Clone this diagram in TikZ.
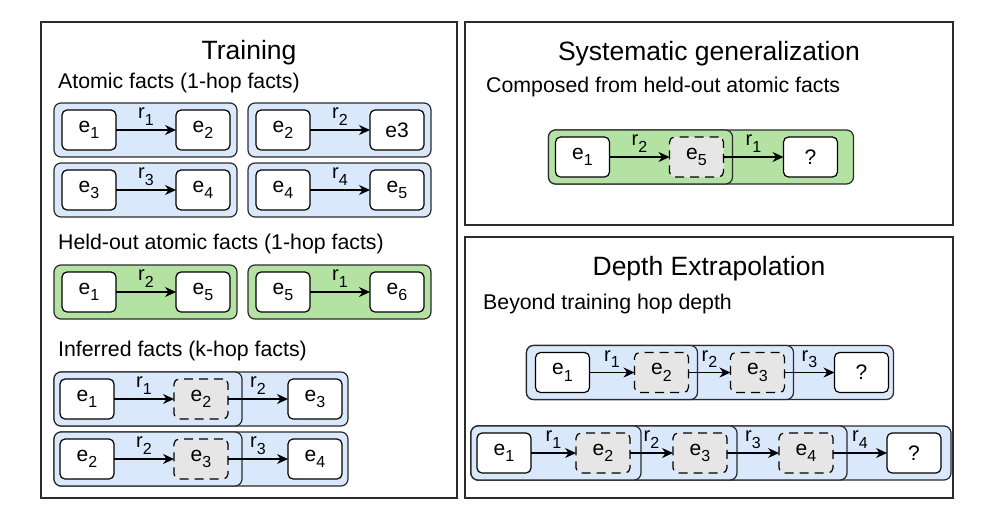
\documentclass[tikz,border=0pt]{standalone}
\usepackage{fontspec}
\setmainfont{Liberation Sans}
\usepackage{tikz}
\usetikzlibrary{arrows.meta,positioning,calc,backgrounds}

\definecolor{factblue}{HTML}{DAE8FC}
\definecolor{factgreen}{HTML}{B3E2A3}
\definecolor{hiddengray}{HTML}{E6E6E6}
\definecolor{edgedark}{HTML}{2B2B2B}

% lowered index as in e_1, r_2
\newcommand\lowidx[1]{\raisebox{-6.5pt}{\fontsize{16}{16}\selectfont #1}}

\begin{document}
\begin{tikzpicture}[
    x=1pt, y=-1pt,
    node distance=60pt,
    entity/.style={draw, fill=white, rounded corners=5pt, line width=1.2pt, minimum width=54pt, minimum height=40pt, inner sep=0pt, outer sep=0pt, font=\fontsize{21}{24}\selectfont},
    hidden/.style={entity, fill=hiddengray, dash pattern=on 9pt off 6pt},
    relation/.style={-{Stealth[length=11pt,width=10pt]}, line width=1.1pt},
    rel/.style={midway, above=4pt, inner sep=0pt, font=\fontsize{20}{22}\selectfont},
    bluegrp/.style={draw=edgedark, fill=factblue, rounded corners=7pt, line width=1.2pt},
    greengrp/.style={draw=edgedark, fill=factgreen, rounded corners=7pt, line width=1.2pt},
    panel/.style={draw=edgedark, line width=1.1pt},
    heading/.style={anchor=base, inner sep=0pt, font=\fontsize{26.5}{30}\selectfont},
    subheading/.style={anchor=base west, inner sep=0pt, font=\fontsize{21.3}{25}\selectfont}
  ]
    \useasboundingbox (0,0) rectangle (996,523);

    % panels
    \draw[panel] (41,22) rectangle (457,498);
    \draw[panel] (465,22) rectangle (953,225);
    \draw[panel] (465,237) rectangle (953,498);

    \node[heading] (trainTitle) at (249,59) {Training};
    \node[subheading] (atomicText) at (58,88) {Atomic facts (1-hop facts)};
    \node[subheading] (heldText) at (58,249) {Held-out atomic facts (1-hop facts)};
    \node[subheading] (inferText) at (58,356) {Inferred facts (k-hop facts)};
    \node[heading] (sysTitle) at (709,60) {Systematic generalization};
    \node[subheading] (sysText) at (486,92) {Composed from held-out atomic facts};
    \node[heading] (depthTitle) at (709,275) {Depth Extrapolation};
    \node[subheading] (depthText) at (483,309) {Beyond training hop depth};

    % atomic facts
    \node[entity] (a1) at (89,130) {e\lowidx{1}};
    \node[entity, right=of a1] (a2) {e\lowidx{2}};
    \node[entity] (b1) at (283,130) {e\lowidx{2}};
    \node[entity, right=of b1] (b2) {e3};
    \node[entity] (c1) at (89,190) {e\lowidx{3}};
    \node[entity, right=of c1] (c2) {e\lowidx{4}};
    \node[entity] (d1) at (283,190) {e\lowidx{4}};
    \node[entity, right=of d1] (d2) {e\lowidx{5}};
    \draw[relation] (a1) -- node[rel] {r\lowidx{1}} (a2);
    \draw[relation] (b1) -- node[rel] {r\lowidx{2}} (b2);
    \draw[relation] (c1) -- node[rel] {r\lowidx{3}} (c2);
    \draw[relation] (d1) -- node[rel] {r\lowidx{4}} (d2);

    % held-out atomic facts
    \node[entity] (h1) at (89,292) {e\lowidx{1}};
    \node[entity, right=of h1] (h2) {e\lowidx{5}};
    \node[entity] (g1) at (283,292) {e\lowidx{5}};
    \node[entity, right=of g1] (g2) {e\lowidx{6}};
    \draw[relation] (h1) -- node[rel] {r\lowidx{2}} (h2);
    \draw[relation] (g1) -- node[rel] {r\lowidx{1}} (g2);

    % inferred facts
    \node[entity] (i1) at (87,399) {e\lowidx{1}};
    \node[hidden, right=of i1] (i2) {e\lowidx{2}};
    \node[entity, right=of i2] (i3) {e\lowidx{3}};
    \node[entity] (j1) at (87,459) {e\lowidx{2}};
    \node[hidden, right=of j1] (j2) {e\lowidx{3}};
    \node[entity, right=of j2] (j3) {e\lowidx{4}};
    \draw[relation] (i1) -- node[rel] {r\lowidx{1}} (i2);
    \draw[relation] (i2) -- node[rel] {r\lowidx{2}} (i3);
    \draw[relation] (j1) -- node[rel] {r\lowidx{2}} (j2);
    \draw[relation] (j2) -- node[rel] {r\lowidx{3}} (j3);

    % systematic generalization
    \node[entity] (s1) at (582.5,157) {e\lowidx{1}};
    \node[hidden, right=of s1] (s2) {e\lowidx{5}};
    \node[entity, right=of s2] (s3) {?};
    \draw[relation] (s1) -- node[rel] {r\lowidx{2}} (s2);
    \draw[relation] (s2) -- node[rel] {r\lowidx{1}} (s3);

    % depth extrapolation
    \node[entity] (p1) at (562.5,372.5) {e\lowidx{1}};
    \node[hidden, right=45pt of p1] (p2) {e\lowidx{2}};
    \node[hidden, right=42pt of p2] (p3) {e\lowidx{3}};
    \node[entity, right=50pt of p3] (p4) {?};
    \draw[relation] (p1) -- node[rel] {r\lowidx{1}} (p2);
    \draw[relation] (p2) -- node[rel] {r\lowidx{2}} (p3);
    \draw[relation] (p3) -- node[rel] {r\lowidx{3}} (p4);

    \node[entity] (q1) at (504,453) {e\lowidx{1}};
    \node[hidden, right=45pt of q1] (q2) {e\lowidx{2}};
    \node[hidden, right=43pt of q2] (q3) {e\lowidx{3}};
    \node[hidden, right=52pt of q3] (q4) {e\lowidx{4}};
    \node[entity, right=54pt of q4] (q5) {?};
    \draw[relation] (q1) -- node[rel] {r\lowidx{1}} (q2);
    \draw[relation] (q2) -- node[rel] {r\lowidx{2}} (q3);
    \draw[relation] (q3) -- node[rel] {r\lowidx{3}} (q4);
    \draw[relation] (q4) -- node[rel] {r\lowidx{4}} (q5);

    % group boxes behind
    \begin{scope}[on background layer]
      \draw[bluegrp] ($(a1.north west)+(-8,-7)$) rectangle ($(a2.south east)+(7,7)$);
      \draw[bluegrp] ($(b1.north west)+(-8,-7)$) rectangle ($(b2.south east)+(7,7)$);
      \draw[bluegrp] ($(c1.north west)+(-8,-7)$) rectangle ($(c2.south east)+(7,7)$);
      \draw[bluegrp] ($(d1.north west)+(-8,-7)$) rectangle ($(d2.south east)+(7,7)$);
      \draw[greengrp] ($(h1.north west)+(-8,-7)$) rectangle ($(h2.south east)+(7,7)$);
      \draw[greengrp] ($(g1.north west)+(-8,-7)$) rectangle ($(g2.south east)+(7,7)$);

      \draw[bluegrp] ($(i1.north west)+(-6,-7)$) rectangle ($(i3.south east)+(6,7)$);
      \draw[bluegrp] ($(i1.north west)+(-6,-7)$) rectangle ($(i2.south east)+(14,7)$);
      \draw[bluegrp] ($(j1.north west)+(-6,-7)$) rectangle ($(j3.south east)+(6,7)$);
      \draw[bluegrp] ($(j1.north west)+(-6,-7)$) rectangle ($(j2.south east)+(14,7)$);

      \draw[greengrp] ($(s1.north west)+(-7,-7)$) rectangle ($(s3.south east)+(16,7)$);
      \draw[greengrp] ($(s1.north west)+(-7,-7)$) rectangle ($(s2.south east)+(9,7)$);

      \draw[bluegrp] ($(p1.north west)+(-9,-7)$) rectangle ($(p4.south east)+(5,7)$);
      \draw[bluegrp] ($(p1.north west)+(-9,-7)$) rectangle ($(p3.south east)+(9,7)$);
      \draw[bluegrp] ($(p1.north west)+(-9,-7)$) rectangle ($(p2.south east)+(9,7)$);

      \draw[bluegrp] ($(q1.north west)+(-6,-7)$) rectangle ($(q5.south east)+(10,7)$);
      \draw[bluegrp] ($(q1.north west)+(-6,-7)$) rectangle ($(q4.south east)+(14,7)$);
      \draw[bluegrp] ($(q1.north west)+(-6,-7)$) rectangle ($(q3.south east)+(10,7)$);
      \draw[bluegrp] ($(q1.north west)+(-6,-7)$) rectangle ($(q2.south east)+(11,7)$);
    \end{scope}
  \end{tikzpicture}
\end{document}
